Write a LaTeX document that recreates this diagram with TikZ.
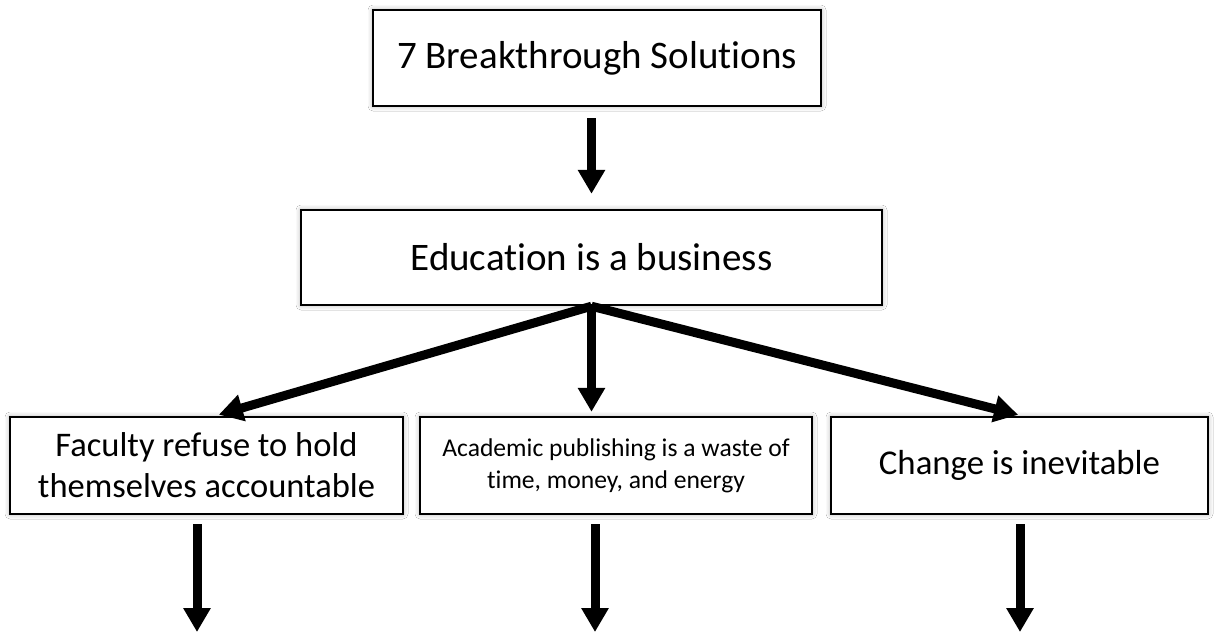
\documentclass[tikz,border=0pt]{standalone}
\usepackage{fontspec}
\setmainfont{Carlito}[Ligatures=NoCommon]
\usetikzlibrary{arrows.meta,shadows.blur}
\tikzset{
  box/.style={draw=black, line width=2.4pt, fill=white, inner sep=0pt, align=center,
    blur shadow={shadow xshift=0pt, shadow yshift=0pt, shadow blur radius=5pt, shadow opacity=35}},
  arr/.style={line width=9pt, -{Triangle[width=26pt,length=24pt]}},
}
\begin{document}
\begin{tikzpicture}[x=1pt,y=1pt]
\useasboundingbox[fill=white] (0,0) rectangle (1216,-633);
\node[box, minimum width=448pt, minimum height=96pt, font=\fontsize{39}{46}\selectfont] (top) at (597,-58)
  {7 Breakthrough Solutions};
\node[box, minimum width=581pt, minimum height=95pt, font=\fontsize{39}{46}\selectfont] (mid) at (591.5,-257.5)
  {Education is a business};
\node[box, minimum width=393pt, minimum height=97pt, font=\fontsize{34.5}{41}\selectfont] (left) at (206.5,-465.5)
  {Faculty refuse to hold\\themselves accountable};
\node[box, minimum width=392pt, minimum height=97pt, font=\fontsize{25.6}{32}\selectfont] (center) at (616,-465.5)
  {Academic publishing is a waste of\\time, money, and energy};
\node[box, minimum width=377pt, minimum height=97pt, font=\fontsize{34.8}{41}\selectfont] (right) at (1019.5,-465.5)
  {Change is inevitable};
\coordinate (e1) at (197,-632);
\coordinate (e2) at (595,-632);
\coordinate (e3) at (1020,-632);
\draw[arr, shorten <=11pt, shorten >=15pt] (top.south -| mid.south) -- (mid.north);
\draw[arr, shorten >=4pt] (mid.south) -- (left.north -| 215,0);
\draw[arr, shorten >=4pt] (mid.south) -- (center.north -| mid.south);
\draw[arr, shorten >=4pt] (mid.south) -- (right.north -| 1022,0);
\draw[arr, shorten <=9pt] (left.south -| e1) -- (e1);
\draw[arr, shorten <=9pt] (center.south -| e2) -- (e2);
\draw[arr, shorten <=9pt] (right.south -| e3) -- (e3);
\end{tikzpicture}
\end{document}
